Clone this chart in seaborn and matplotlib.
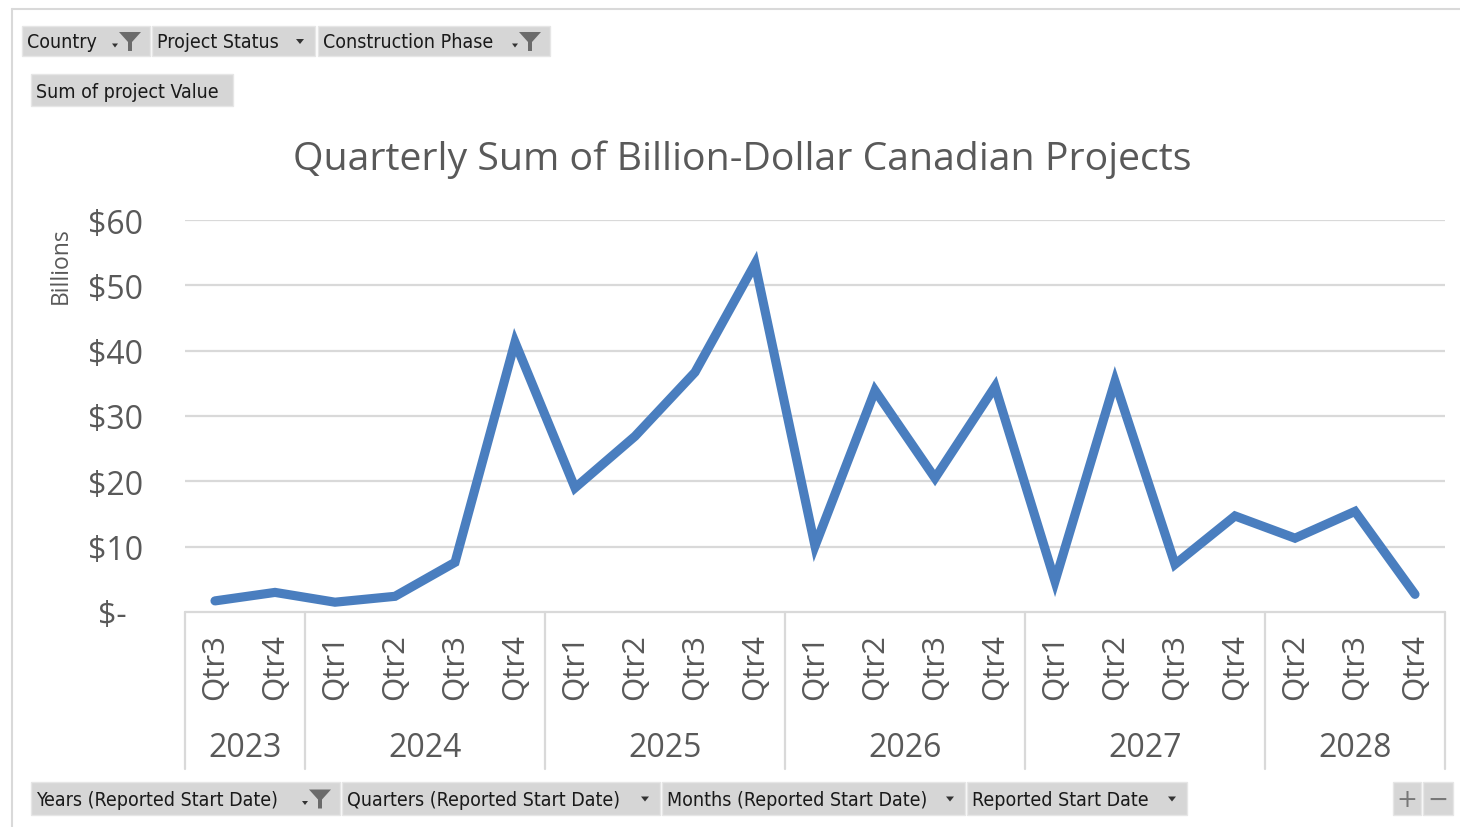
import numpy as np
import pandas as pd
import matplotlib
matplotlib.use("Agg")
import matplotlib.pyplot as plt
import matplotlib.transforms as mtransforms
from matplotlib.patches import Rectangle, Polygon
import seaborn as sns

# Quarterly sum of billion-dollar Canadian projects (values in $ billions)
years = ["2023", "2023",
         "2024", "2024", "2024", "2024",
         "2025", "2025", "2025", "2025",
         "2026", "2026", "2026", "2026",
         "2027", "2027", "2027", "2027",
         "2028", "2028", "2028"]
quarters = ["Qtr3", "Qtr4",
            "Qtr1", "Qtr2", "Qtr3", "Qtr4",
            "Qtr1", "Qtr2", "Qtr3", "Qtr4",
            "Qtr1", "Qtr2", "Qtr3", "Qtr4",
            "Qtr1", "Qtr2", "Qtr3", "Qtr4",
            "Qtr2", "Qtr3", "Qtr4"]
values = [1.7, 3.0,
          1.5, 2.4, 7.6, 41.3,
          19.0, 26.9, 36.7, 53.3,
          10.1, 33.9, 20.5, 34.5,
          4.7, 35.3, 7.3, 14.7,
          11.3, 15.4, 2.7]
y_ticks = [0, 10, 20, 30, 40, 50, 60]

top_filters = ["Country", "Project Status", "Construction Phase"]
value_field = "Sum of project Value"
axis_fields = ["Years (Reported Start Date)", "Quarters (Reported Start Date)",
               "Months (Reported Start Date)", "Reported Start Date"]

df = pd.DataFrame({"pos": np.arange(len(values)), "year": years,
                   "quarter": quarters, "value": values})

sns.set_theme(style="white")
plt.rcParams["font.family"] = ["Open Sans", "DejaVu Sans"]

W, H = 1460, 828
fig = plt.figure(figsize=(W / 100, H / 100), dpi=100)
fig.patch.set_facecolor("white")

def fx(x):
    return x / W

def fy(y):
    return 1 - y / H

TEXT = "#595959"
GRID = "#d9d9d9"

ax = fig.add_axes([fx(185), fy(613), fx(1445) - fx(185), fy(221) - fy(613)])
sns.lineplot(data=df, x="pos", y="value", ax=ax, color="#4a7ebf",
             linewidth=6.6, sort=False, solid_joinstyle="miter",
             solid_capstyle="round", clip_on=False)

ax.set_xlim(-0.5, len(values) - 0.5)
ax.set_ylim(0, 60)
ax.set_yticks(y_ticks)
ax.set_yticklabels([f"${v}" if v else "$-  " for v in y_ticks],
                   fontsize=23, color=TEXT)
for v in y_ticks[1:]:
    ax.axhline(v, color=GRID, linewidth=1.6, zorder=0)
ax.axhline(0, color=GRID, linewidth=1.6, zorder=0, clip_on=False)
ax.tick_params(axis="y", length=0, pad=30)
ax.set_xticks(df["pos"])
ax.set_xticklabels(df["quarter"], rotation=90, fontsize=22.5, color=TEXT)
ax.tick_params(axis="x", length=0, pad=15)
ax.set_xlabel("")
ax.set_ylabel("")
for s in ax.spines.values():
    s.set_visible(False)

# Year groups of the category axis
trans = mtransforms.blended_transform_factory(ax.transData, ax.transAxes)
sep_bottom = (613 - 770) / (613 - 221)
year_y = (613 - 749) / (613 - 221)
bounds = [-0.5]
for i in range(1, len(years)):
    if years[i] != years[i - 1]:
        bounds.append(i - 0.5)
bounds.append(len(years) - 0.5)
for b in bounds:
    ax.plot([b, b], [0, sep_bottom], color=GRID, linewidth=1.6,
            transform=trans, clip_on=False)
for lo, hi in zip(bounds[:-1], bounds[1:]):
    yr = years[int(lo + 0.5)]
    ax.text((lo + hi) / 2, year_y, yr, transform=trans, ha="center",
            va="center", fontsize=23, color=TEXT)

# Title and display-unit label
fig.text(fx(742), fy(160), "Quarterly Sum of Billion-Dollar Canadian Projects",
         ha="center", va="center", fontsize=28.3, color=TEXT)
fig.text(fx(61), fy(266), "Billions", rotation=90, ha="center", va="center",
         fontsize=16.5, color=TEXT)

# Outer chart frame
fig.add_artist(plt.Line2D([fx(12), 1], [fy(10), fy(10)], color=GRID, linewidth=1.5))
fig.add_artist(plt.Line2D([fx(12), fx(12)], [fy(10), 0], color=GRID, linewidth=1.5))

BTN_FONT = ["DejaVu Sans"]

def funnel(cx, cy):
    pts = [(cx - 11, cy - 9), (cx + 11, cy - 9), (cx + 2, cy + 1),
           (cx + 2, cy + 10), (cx - 2, cy + 10), (cx - 2, cy + 1)]
    fig.add_artist(Polygon([(fx(a), fy(b)) for a, b in pts], closed=True,
                           facecolor="#6b6b6b", edgecolor="none"))

def arrow(cx, cy, size=4):
    pts = [(cx - size, cy - size / 2), (cx + size, cy - size / 2), (cx, cy + size / 2 + 1)]
    fig.add_artist(Polygon([(fx(a), fy(b)) for a, b in pts], closed=True,
                           facecolor="#333333", edgecolor="none"))

def button(x0, x1, y0, y1, label, icon=None):
    fig.add_artist(Rectangle((fx(x0), fy(y1)), fx(x1) - fx(x0), fy(y0) - fy(y1),
                             facecolor="#d6d6d6", edgecolor="#e6e6e6", linewidth=1))
    if label:
        fig.text(fx(x0 + 5), fy((y0 + y1) / 2 + 1), label, ha="left", va="center",
                 fontsize=14, color="#1a1a1a", family=BTN_FONT,
                 fontstretch="condensed")
    cy = (y0 + y1) / 2
    if icon == "filter":
        arrow(x1 - 35, cy + 4, 3)
        funnel(x1 - 20, cy)
    elif icon == "arrow":
        arrow(x1 - 15, cy)

button(22, 150, 27, 57, top_filters[0], "filter")
button(152, 315, 27, 57, top_filters[1], "arrow")
button(318, 550, 27, 57, top_filters[2], "filter")
button(31, 233, 75, 107, value_field)
button(31, 340, 783, 816, axis_fields[0], "filter")
button(342, 660, 783, 816, axis_fields[1], "arrow")
button(662, 965, 783, 816, axis_fields[2], "arrow")
button(967, 1187, 783, 816, axis_fields[3], "arrow")
button(1393, 1421, 783, 816, "")
button(1423, 1453, 783, 816, "")
fig.text(fx(1407), fy(800), "+", ha="center", va="center", fontsize=18,
         color="#777777", family=BTN_FONT)
fig.text(fx(1438), fy(800), "\u2212", ha="center", va="center", fontsize=18,
         color="#777777", family=BTN_FONT)

fig.savefig("out.png", dpi=100, facecolor="white")
